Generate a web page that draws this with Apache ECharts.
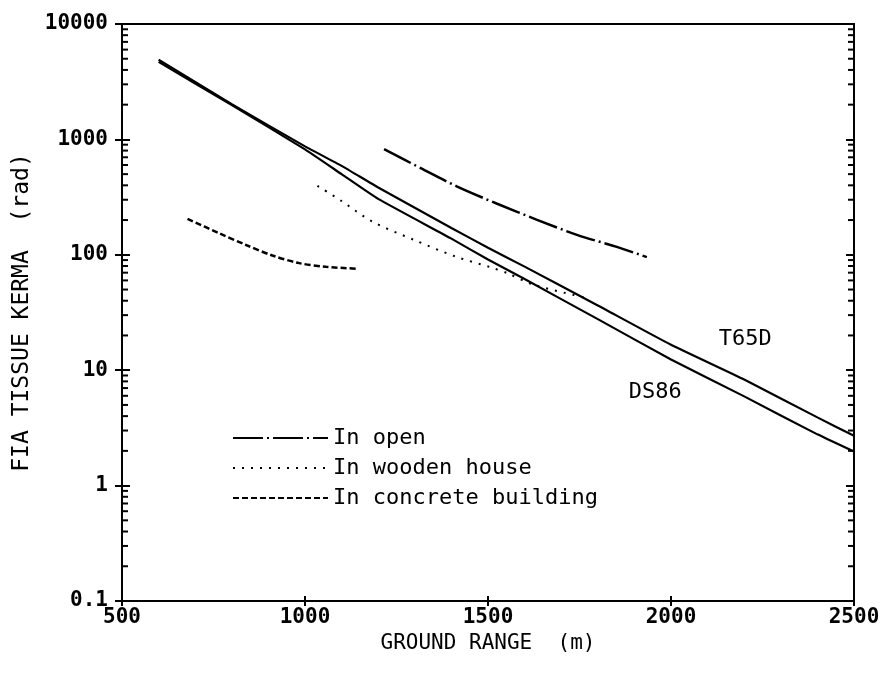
<!DOCTYPE html>
<html>
<head>
<meta charset="utf-8">
<script src="https://cdn.jsdelivr.net/npm/echarts@6/dist/echarts.min.js"></script>
<style>
  html, body { margin: 0; padding: 0; background: #fff; }
  #main { width: 883px; height: 678px; }
</style>
</head>
<body>
<div id="main"></div>
<script>
// ground range (m) and kerma (rad)
var t65dRange = [600, 800, 1000, 1100, 1200, 1400, 1500, 1600, 1800, 2000, 2200, 2400, 2500];
var t65dKerma = [4900, 2020, 870, 590, 383, 171, 115, 79, 36.4, 16.6, 8.3, 3.9, 2.7];

var ds86Range = [600, 800, 1000, 1100, 1200, 1400, 1500, 1600, 1800, 2000, 2200, 2400, 2500];
var ds86Kerma = [4700, 1980, 820, 500, 305, 138, 91, 61.6, 27.7, 12.4, 5.93, 2.78, 1.97];

var openRange = [1216, 1316, 1416, 1525, 1634, 1743, 1852, 1934];
var openKerma = [822, 564, 390, 277, 201, 149, 117, 95.5];

var woodRange = [1034, 1098, 1184, 1297, 1411, 1507, 1552, 1625, 1771];
var woodKerma = [396, 295, 194, 135, 96.6, 78, 69.5, 55, 42.2];

var concreteRange = [679, 765, 838, 911, 984, 1057, 1143];
var concreteKerma = [205, 154, 122, 98.6, 84.7, 78.7, 75.7];

var decades = [0.1, 1, 10, 100, 1000];
var minorSteps = [2, 3, 4, 5, 6, 7, 8, 9];

function pairs(xs, ys) {
    return xs.map(function (x, i) { return [x, ys[i]]; });
}

var minorTicks = [];
decades.forEach(function (d) {
    minorSteps.forEach(function (m) { minorTicks.push([500, +(d * m).toPrecision(3)]); });
});

var font = 'DejaVu Sans Mono';
var plain = function (v) { return String(+v.toPrecision(6)); };

var myChart = echarts.init(document.getElementById('main'));
myChart.setOption({
    backgroundColor: '#fff',
    animation: false,
    grid: {
        left: 122, right: 29, top: 24, bottom: 77,
        outerBoundsMode: 'none', containLabel: false,
        show: true, borderColor: '#000', borderWidth: 2
    },
    legend: {
        orient: 'vertical',
        left: 227,
        top: 422,
        itemWidth: 95,
        itemHeight: 12,
        itemGap: 8,
        itemStyle: { opacity: 0 },
        textStyle: { color: '#000', fontFamily: font, fontSize: 22 },
        data: ['In open', 'In wooden house', 'In concrete building']
    },
    xAxis: [
        {
            type: 'value', min: 500, max: 2500, interval: 500,
            name: 'GROUND RANGE  (m)', nameLocation: 'middle', nameGap: 29,
            nameTextStyle: { color: '#000', fontFamily: font, fontSize: 21 },
            axisLine: { lineStyle: { color: '#000', width: 2 } },
            axisTick: { length: 5, lineStyle: { color: '#000', width: 2 } },
            axisLabel: { color: '#000', fontFamily: font, fontSize: 21, margin: 6, fontWeight: 'bold', formatter: plain },
            splitLine: { show: false }
        },
        {
            type: 'value', min: 500, max: 2500, interval: 500, position: 'bottom',
            axisLine: { show: false },
            axisTick: { inside: true, length: 5, lineStyle: { color: '#000', width: 2 } },
            axisLabel: { show: false },
            splitLine: { show: false }
        }
    ],
    yAxis: [
        {
            type: 'log', logBase: 10, min: 0.1, max: 10000,
            name: 'FIA TISSUE KERMA  (rad)', nameLocation: 'middle', nameGap: 88,
            nameTextStyle: { color: '#000', fontFamily: font, fontSize: 23 },
            axisLine: { lineStyle: { color: '#000', width: 2 } },
            axisTick: { length: 7, lineStyle: { color: '#000', width: 2 } },
            axisLabel: { color: '#000', fontFamily: font, fontSize: 21, margin: 14, fontWeight: 'bold', formatter: plain },
            splitLine: { show: false }
        },
        {
            type: 'log', logBase: 10, min: 0.1, max: 10000, position: 'left',
            axisLine: { show: false },
            axisTick: { inside: true, length: 8, lineStyle: { color: '#000', width: 2 } },
            axisLabel: { show: false },
            splitLine: { show: false }
        },
        {
            type: 'log', logBase: 10, min: 0.1, max: 10000, position: 'right',
            axisLine: { lineStyle: { color: '#000', width: 2 } },
            axisTick: { inside: true, length: 8, lineStyle: { color: '#000', width: 2 } },
            axisLabel: { show: false },
            splitLine: { show: false }
        }
    ],
    series: [
        {
            name: 'T65D', type: 'line', symbol: 'none', smooth: 0.15,
            lineStyle: { color: '#000', width: 2.2 },
            data: pairs(t65dRange, t65dKerma),
            markPoint: {
                symbol: 'circle', symbolSize: 0,
                label: { show: true, position: 'inside', formatter: '{b}', color: '#000', fontFamily: font, fontSize: 22 },
                data: [{ name: 'T65D', coord: [2203, 18.4] }]
            }
        },
        {
            name: 'DS86', type: 'line', symbol: 'none', smooth: 0.15,
            lineStyle: { color: '#000', width: 2.2 },
            data: pairs(ds86Range, ds86Kerma),
            markPoint: {
                symbol: 'circle', symbolSize: 0,
                label: { show: true, position: 'inside', formatter: '{b}', color: '#000', fontFamily: font, fontSize: 22 },
                data: [{ name: 'DS86', coord: [1957, 6.5] }]
            }
        },
        {
            name: 'In open', type: 'line', symbol: 'none', smooth: 0.3,
            lineStyle: { color: '#000', width: 2.5, type: [30, 4, 2, 4] },
            data: pairs(openRange, openKerma)
        },
        {
            name: 'In wooden house', type: 'line', symbol: 'none', smooth: 0.3,
            lineStyle: { color: '#000', width: 2, type: [2, 7] },
            data: pairs(woodRange, woodKerma)
        },
        {
            name: 'In concrete building', type: 'line', symbol: 'none', smooth: 0.3,
            lineStyle: { color: '#000', width: 2.5, type: [6, 3] },
            data: pairs(concreteRange, concreteKerma)
        },
        {
            // minor log ticks, inward on both sides
            type: 'custom', silent: true,
            data: minorTicks,
            renderItem: function (params, api) {
                var v = api.value(1);
                var l = api.coord([500, v]);
                var r = api.coord([2500, v]);
                var st = { stroke: '#000', lineWidth: 2 };
                return {
                    type: 'group',
                    children: [
                        { type: 'line', shape: { x1: l[0], y1: l[1], x2: l[0] + 6, y2: l[1] }, style: st },
                        { type: 'line', shape: { x1: r[0] - 6, y1: r[1], x2: r[0], y2: r[1] }, style: st }
                    ]
                };
            }
        }
    ]
});
</script>
</body>
</html>
